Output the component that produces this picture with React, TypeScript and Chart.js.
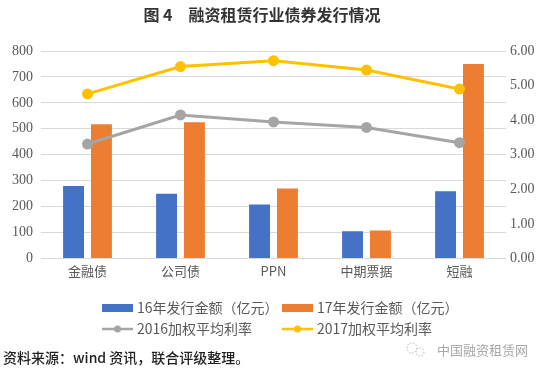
import React, { useEffect, useRef } from "react";
import { Chart, registerables } from "chart.js";

Chart.register(...registerables);

const categories = ["金融债", "公司债", "PPN", "中期票据", "短融"];
const issue2016 = [280, 250, 208, 105, 259];
const issue2017 = [518, 525, 270, 108, 750];
const rate2016 = [3.31, 4.15, 3.95, 3.79, 3.35];
const rate2017 = [4.76, 5.55, 5.72, 5.45, 4.9];
const seriesLabels = [
  "16年发行金额（亿元）",
  "17年发行金额（亿元）",
  "2016加权平均利率",
  "2017加权平均利率",
];
const titleText = "图 4　融资租赁行业债券发行情况";
const sourceText = "资料来源：wind 资讯，联合评级整理。";
const watermarkText = "中国融资租赁网";

const BLUE = "#4472C4";
const ORANGE = "#ED7D31";
const GREY = "#A5A5A5";
const YELLOW = "#FFC000";
const TEXT = "#595959";
const CJK = '"Noto Sans CJK SC", "Noto Sans", sans-serif';
const SERIF = '"Liberation Serif", "DejaVu Serif", serif';

const decorPlugin = {
  id: "decor",
  afterDraw(chart: any) {
    const ctx = chart.ctx as CanvasRenderingContext2D;
    ctx.save();
    // title
    ctx.fillStyle = "#333333";
    ctx.font = `bold 16px ${CJK}`;
    ctx.textAlign = "center";
    ctx.textBaseline = "middle";
    ctx.fillText(titleText, 262, 15);

    // legend
    const ds = chart.data.datasets;
    const cols = [102, 282];
    const rows = [308, 329];
    ctx.font = `14px ${CJK}`;
    ctx.textAlign = "left";
    ds.forEach((d: any, i: number) => {
      const x = cols[i % 2];
      const y = rows[Math.floor(i / 2)];
      if (d.type === "line") {
        ctx.strokeStyle = d.borderColor;
        ctx.lineWidth = 2.5;
        ctx.beginPath();
        ctx.moveTo(x, y);
        ctx.lineTo(x + 31, y);
        ctx.stroke();
        ctx.fillStyle = d.borderColor;
        ctx.beginPath();
        ctx.arc(x + 15.5, y, 3.5, 0, Math.PI * 2);
        ctx.fill();
      } else {
        ctx.fillStyle = d.backgroundColor;
        ctx.fillRect(x, y - 4, 31, 8);
      }
      ctx.fillStyle = TEXT;
      ctx.fillText(d.label, x + 35, y);
    });

    // source note
    ctx.fillStyle = "#1f1f1f";
    ctx.font = `500 14px ${CJK}`;
    ctx.fillText(sourceText, 3, 358);

    // watermark
    ctx.fillStyle = "#a8a8a8";
    ctx.font = `13px ${CJK}`;
    ctx.fillText(watermarkText, 437, 350);
    ctx.strokeStyle = "#b5b5b5";
    ctx.lineWidth = 1;
    ctx.setLineDash([1.5, 1.5]);
    ctx.beginPath();
    ctx.arc(412, 348, 5, 0, Math.PI * 2);
    ctx.stroke();
    ctx.beginPath();
    ctx.arc(420, 352, 4, 0, Math.PI * 2);
    ctx.stroke();
    ctx.restore();
  },
};

export default function App() {
  const ref = useRef<HTMLCanvasElement | null>(null);
  useEffect(() => {
    if (!ref.current) return;
    const chart = new Chart(ref.current, {
      type: "bar",
      data: {
        labels: categories,
        datasets: [
          {
            type: "bar",
            label: seriesLabels[0],
            data: issue2016,
            backgroundColor: BLUE,
            yAxisID: "y",
            order: 2,
            barPercentage: 0.75,
            categoryPercentage: 0.6,
          },
          {
            type: "bar",
            label: seriesLabels[1],
            data: issue2017,
            backgroundColor: ORANGE,
            yAxisID: "y",
            order: 2,
            barPercentage: 0.75,
            categoryPercentage: 0.6,
          },
          {
            type: "line",
            label: seriesLabels[2],
            data: rate2016,
            borderColor: GREY,
            backgroundColor: GREY,
            pointBackgroundColor: GREY,
            pointBorderColor: GREY,
            borderWidth: 3,
            pointRadius: 4,
            tension: 0,
            yAxisID: "y1",
            order: 1,
          },
          {
            type: "line",
            label: seriesLabels[3],
            data: rate2017,
            borderColor: YELLOW,
            backgroundColor: YELLOW,
            pointBackgroundColor: YELLOW,
            pointBorderColor: YELLOW,
            borderWidth: 3,
            pointRadius: 4,
            tension: 0,
            yAxisID: "y1",
            order: 1,
          },
        ] as any,
      },
      options: {
        responsive: false,
        animation: false,
        layout: { padding: { top: 51, bottom: 0, left: 0, right: 0 } },
        plugins: {
          legend: { display: false },
          title: { display: false },
          tooltip: { enabled: false },
        },
        scales: {
          x: {
            grid: { display: false, drawTicks: false },
            border: { display: false },
            ticks: { color: TEXT, font: { family: CJK, size: 13 }, padding: 5 },
            afterFit: (s: any) => {
              s.height = 116.5;
            },
          },
          y: {
            position: "left",
            min: 0,
            max: 800,
            ticks: {
              stepSize: 100,
              color: TEXT,
              font: { family: SERIF, size: 14 },
              padding: 8,
            },
            grid: { color: "#D9D9D9", drawTicks: false, lineWidth: 1 },
            border: { display: false },
            afterFit: (s: any) => {
              s.width = 41;
            },
          },
          y1: {
            position: "right",
            min: 0,
            max: 6,
            ticks: {
              stepSize: 1,
              color: TEXT,
              font: { family: SERIF, size: 14 },
              padding: 4,
              callback: (v: any) => Number(v).toFixed(2),
            },
            grid: { display: false, drawTicks: false },
            border: { display: false },
            afterFit: (s: any) => {
              s.width = 47;
            },
          },
        },
      } as any,
      plugins: [decorPlugin],
    });
    return () => chart.destroy();
  }, []);
  return (
    <div style={{ position: "absolute", left: 0, top: 0, width: 553, height: 375, background: "#fff" }}>
      <canvas ref={ref} width={553} height={375} />
    </div>
  );
}
